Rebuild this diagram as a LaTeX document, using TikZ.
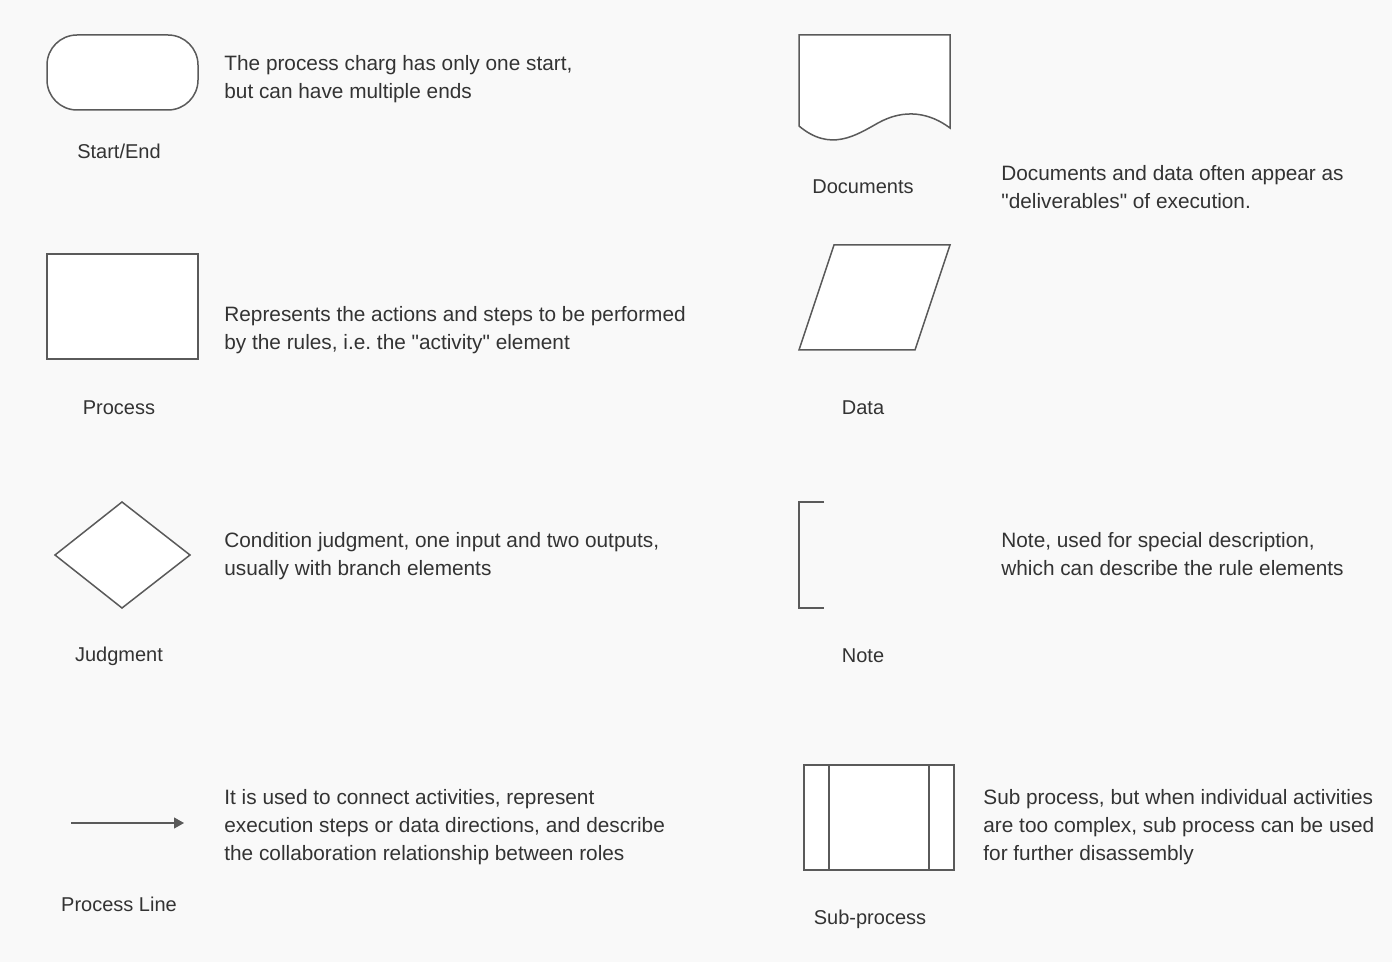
\documentclass[tikz,border=0pt]{standalone}
\usepackage{fontspec}
\setmainfont{Liberation Sans}
\usetikzlibrary{arrows.meta}
\definecolor{bgc}{HTML}{F9F9F9}
\definecolor{shapec}{HTML}{5A5A5A}
\definecolor{txt}{HTML}{333333}
\frenchspacing
\begin{document}
\begin{tikzpicture}[x=0.5pt,y=-0.5pt,
  shp/.style={draw=shapec, line width=0.75pt, fill=white, line join=miter},
  desc/.style={anchor=west, align=left, inner sep=0pt, font=\fontsize{10.4}{14}\selectfont, text=txt},
  lbl/.style={inner sep=0pt, font=\fontsize{10}{14}\selectfont, text=txt}]
\fill[bgc] (0,0) rectangle (1392,962);
\useasboundingbox (0,0) rectangle (1392,962);

% Start/End
\draw[shp, rounded corners=15pt] (47,35) rectangle (198,110);
\node[lbl] (l1) at (119,151) {Start/End};
\node[desc] (d1) at (224,79) {The process charg has only one start,\\but can have multiple ends};

% Process
\draw[shp] (47,254) rectangle (198,359);
\node[lbl] (l2) at (119,408) {Process};
\node[desc] (d2) at (224,330) {Represents the actions and steps to be performed\\by the rules, i.e. the \textquotedbl activity\textquotedbl\ element};

% Judgment
\coordinate (jl) at (55,555);
\coordinate (jt) at (122,502);
\coordinate (jr) at (190,555);
\coordinate (jb) at (122,608);
\draw[shp] (jl) -- (jt) -- (jr) -- (jb) -- cycle;
\node[lbl] (l3) at (119,656) {Judgment};
\node[desc] (d3) at (224,556) {Condition judgment, one input and two outputs,\\usually with branch elements};

% Process line
\coordinate (pa) at (71,823);
\coordinate (pb) at (184,823);
\draw[draw=shapec, line width=0.6pt, -{Triangle[length=5pt,width=5.5pt]}] (pa) -- (pb);
\node[lbl] (l4) at (119,904) {Process Line};
\node[desc] (d4) at (224,827) {It is used to connect activities, represent\\execution steps or data directions, and describe\\the collaboration relationship between roles};

% Documents
\draw[shp] (799,35) -- (950,35) -- (950,128)
  .. controls (930,113) and (905,108) .. (878,123)
  .. controls (855,136) and (830,152) .. (799,126) -- cycle;
\node[lbl] (l5) at (863,187) {Documents};
\node[desc] (d5) at (1001,187) {Documents and data often appear as\\\textquotedbl deliverables\textquotedbl\ of execution.};

% Data
\coordinate (da) at (799,350);
\coordinate (db) at (915,350);
\coordinate (dc) at (950,245);
\coordinate (dd) at (834,245);
\draw[shp] (da) -- (db) -- (dc) -- (dd) -- cycle;
\node[lbl] (l6) at (863,408) {Data};

% Note
\draw[draw=shapec, line width=0.75pt] (824,502) -- (799,502) -- (799,608) -- (824,608);
\node[lbl] (l7) at (863,656) {Note};
\node[desc] (d7) at (1001,554) {Note, used for special description,\\which can describe the rule elements};

% Sub-process
\draw[shp] (804,765) rectangle (954,870);
\draw[draw=shapec, line width=0.75pt] (829,765) -- (829,870) (929,765) -- (929,870);
\node[lbl] (l8) at (870,919) {Sub-process};
\node[desc] (d8) at (983,827) {Sub process, but when individual activities\\are too complex, sub process can be used\\for further disassembly};
\end{tikzpicture}
\end{document}
